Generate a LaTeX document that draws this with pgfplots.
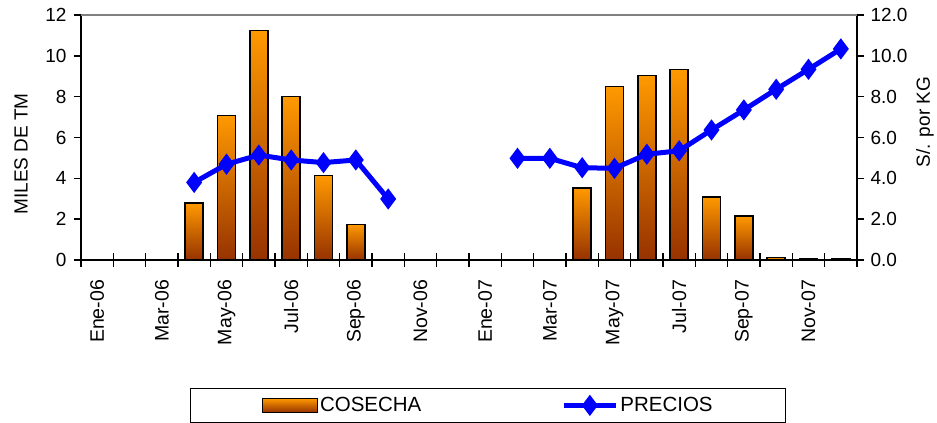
\documentclass[border=0pt]{standalone}
\usepackage{pgfplots}
\pgfplotsset{compat=1.18}
\usepackage{pgfplotstable}
\usepackage{fontspec}
\setmainfont{Liberation Sans}

\definecolor{barTop}{RGB}{255,153,0}
\definecolor{barBot}{RGB}{150,50,0}
\definecolor{precio}{RGB}{0,0,255}

\newcommand{\chartfont}{\fontsize{19bp}{22bp}\selectfont}
\newcommand{\legfont}{\fontsize{20.5bp}{23bp}\selectfont}

\pgfplotsset{
  % each bar its own plot, so that each one gets its own gradient
  barra/.style={ybar, bar width=18bp, bar shift=0pt, draw=black, line width=1.5bp,
    top color=barTop, bottom color=barBot, forget plot},
  barlegend/.style={legend image code/.code={\draw[draw=black, line width=1.5bp, top color=barTop, bottom color=barBot] (0bp,-7bp) rectangle (55bp,7bp);}},
  linelegend/.style={legend image code/.code={\draw[mark repeat=2, mark phase=2, ##1] plot coordinates {(0bp,0bp) (26bp,0bp) (52bp,0bp)};}},
}

% precios (S/. por KG), meses 0 = Ene-06 ... 23 = Dic-07
\pgfplotstableread{
x  precio
3  3.80
4  4.69
5  5.14
6  4.90
7  4.77
8  4.90
9  2.99
10 nan
13 4.98
14 4.98
15 4.52
16 4.49
17 5.18
18 5.35
19 6.37
20 7.35
21 8.36
22 9.34
23 10.34
}\precios

\begin{document}
\begin{tikzpicture}
\begin{axis}[
  scale only axis, width=776bp, height=245bp,
  xmin=-0.5, xmax=23.5, ymin=0, ymax=12,
  axis x line*=bottom, axis y line*=left,
  axis line style={line width=1.5bp, -},
  /pgf/number format/assume math mode=true,
  tick label style={font=\chartfont},
  label style={font=\chartfont},
  xtick={0,2,...,22},
  xticklabels={Ene-06,Mar-06,May-06,Jul-06,Sep-06,Nov-06,Ene-07,Mar-07,May-07,Jul-07,Sep-07,Nov-07},
  x tick label style={rotate=90, anchor=east, xshift=-13bp, font=\fontsize{19.5bp}{22bp}\selectfont},
  major x tick style={draw=none},
  minor xtick={-0.5,0.5,...,23.5},
  minor x tick style={line width=1.5bp, black},
  minor tick length=14bp,
  xtick align=center,
  ytick={0,2,...,12},
  ytick align=outside,
  major tick length=7bp,
  y tick style={line width=1.5bp, black},
  yticklabel style={xshift=-4bp},
  ylabel={MILES DE TM},
  ylabel style={at={(axis description cs:-0.0773,0.433)}, anchor=center, rotate=0},
  legend columns=2,
  legend style={at={(axis description cs:0.1405,-0.5224)}, anchor=north west,
    draw=black, line width=1bp, font=\legfont, inner xsep=71bp, inner ysep=7bp,
    /tikz/every even column/.append style={column sep=138bp}},
]
% cosecha (miles de TM)
\addplot[barra] coordinates {(3,2.79)};
\addplot[barra] coordinates {(4,7.08)};
\addplot[barra] coordinates {(5,11.25)};
\addplot[barra] coordinates {(6,8.00)};
\addplot[barra] coordinates {(7,4.13)};
\addplot[barra] coordinates {(8,1.75)};
\addplot[barra] coordinates {(15,3.53)};
\addplot[barra] coordinates {(16,8.49)};
\addplot[barra] coordinates {(17,9.04)};
\addplot[barra] coordinates {(18,9.34)};
\addplot[barra] coordinates {(19,3.09)};
\addplot[barra] coordinates {(20,2.15)};
\addplot[barra] coordinates {(21,0.12)};
\addplot[barra] coordinates {(22,0.06)};
\addplot[barra] coordinates {(23,0.06)};
\addlegendimage{barlegend}
\addlegendentry{COSECHA}
\addlegendimage{precio, line width=5bp, mark=diamond*, mark size=6.5bp, linelegend}
\addlegendentry{PRECIOS}
\end{axis}
\begin{axis}[
  scale only axis, width=776bp, height=245bp,
  xmin=-0.5, xmax=23.5, ymin=0, ymax=12,
  axis x line=none, axis y line*=right,
  axis line style={line width=1.5bp, -},
  /pgf/number format/assume math mode=true,
  tick label style={font=\chartfont},
  label style={font=\chartfont},
  ytick={0,2,...,12},
  ytick align=outside,
  major tick length=7bp,
  y tick style={line width=1.5bp, black},
  yticklabel style={xshift=3bp, /pgf/number format/.cd, fixed, fixed zerofill, precision=1},
  ylabel={S/. por KG},
  ylabel style={at={(axis description cs:1.0876,0.563)}, anchor=center, rotate=0},
  unbounded coords=jump,
]
\addplot[precio, line width=5bp, mark=diamond*, mark size=6.5bp]
  table[x=x, y=precio] {\precios};
\end{axis}
\draw[gray, line width=1.5bp] (0bp,245bp) -- (776bp,245bp);
\pgfresetboundingbox
\path[use as bounding box] (-81bp,-163bp) rectangle (856bp,260bp);
\end{tikzpicture}
\end{document}
